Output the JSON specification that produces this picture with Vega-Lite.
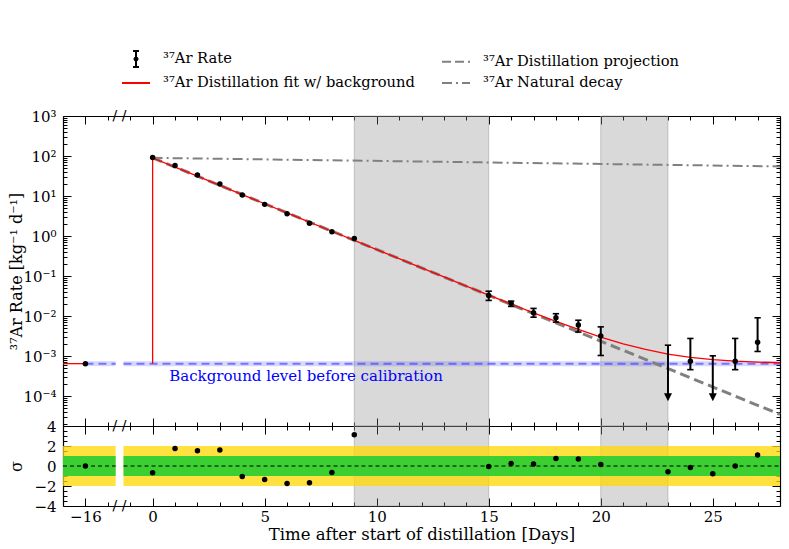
{
  "$schema": "https://vega.github.io/schema/vega-lite/v6.json",
  "background": "white",
  "padding": {"left": 8, "top": 51, "right": 8, "bottom": 6},
  "bounds": "flush",
  "spacing": 0,
  "config": {
    "font": "DejaVu Serif",
    "view": {"stroke": null},
    "axis": {
      "grid": false,
      "zindex": 1,
      "domainColor": "black",
      "domainWidth": 1.2,
      "tickColor": "black",
      "tickWidth": 1,
      "labelColor": "black",
      "labelFont": "DejaVu Serif",
      "labelFontSize": 15,
      "titleFont": "DejaVu Serif",
      "titleFontSize": 16,
      "titleFontWeight": "normal",
      "titleColor": "black"
    },
    "legend": {
      "orient": "none", "legendX": 65, "legendY": -65, "columns": 2, "gridAlign": "each",
      "padding": 0, "columnPadding": 23, "rowPadding": 4,
      "symbolSize": 196, "symbolStrokeWidth": 2, "symbolOpacity": 1, "labelOffset": 19, "labelLimit": 400,
      "labelFont": "DejaVu Serif", "labelFontSize": 14.7, "labelColor": "black"
    }
  },
  "datasets": {
    "bands": [
      {"start": 9, "end": 15},
      {"start": 20, "end": 23}
    ],
    "background": [
      {"seg": "a", "t": -3, "rate": 0.00065},
      {"seg": "a", "t": -1.65, "rate": 0.00065},
      {"seg": "b", "t": -1.3, "rate": 0.00065},
      {"seg": "b", "t": 28, "rate": 0.00065}
    ],
    "decay": [
      {"series": "decay", "t": 0, "rate": 90},
      {"series": "decay", "t": 28, "rate": 55}
    ],
    "projection": [
      {"series": "proj", "t": 0, "rate": 90},
      {"series": "proj", "t": 28, "rate": 0.000035}
    ],
    "fit": [
      {"series": "fit", "seg": "a", "i": 0, "t": -4, "rate": 0.00065},
      {"series": "fit", "seg": "a", "i": 1, "t": -3, "rate": 0.00065},
      {"series": "fit", "seg": "b", "i": 0, "t": 0, "rate": 0.00065},
      {"series": "fit", "seg": "b", "i": 1, "t": 0, "rate": 90},
      {"series": "fit", "seg": "b", "i": 2, "t": 1, "rate": 53.1},
      {"series": "fit", "seg": "b", "i": 3, "t": 2, "rate": 31.3},
      {"series": "fit", "seg": "b", "i": 4, "t": 3, "rate": 18.5},
      {"series": "fit", "seg": "b", "i": 5, "t": 4, "rate": 10.9},
      {"series": "fit", "seg": "b", "i": 6, "t": 5, "rate": 6.43},
      {"series": "fit", "seg": "b", "i": 7, "t": 6, "rate": 3.8},
      {"series": "fit", "seg": "b", "i": 8, "t": 7, "rate": 2.24},
      {"series": "fit", "seg": "b", "i": 9, "t": 8, "rate": 1.32},
      {"series": "fit", "seg": "b", "i": 10, "t": 9, "rate": 0.78},
      {"series": "fit", "seg": "b", "i": 11, "t": 10, "rate": 0.461},
      {"series": "fit", "seg": "b", "i": 12, "t": 11, "rate": 0.273},
      {"series": "fit", "seg": "b", "i": 13, "t": 12, "rate": 0.161},
      {"series": "fit", "seg": "b", "i": 14, "t": 13, "rate": 0.0952},
      {"series": "fit", "seg": "b", "i": 15, "t": 14, "rate": 0.0565},
      {"series": "fit", "seg": "b", "i": 16, "t": 15, "rate": 0.0336},
      {"series": "fit", "seg": "b", "i": 17, "t": 16, "rate": 0.0201},
      {"series": "fit", "seg": "b", "i": 18, "t": 17, "rate": 0.0121},
      {"series": "fit", "seg": "b", "i": 19, "t": 18, "rate": 0.00741},
      {"series": "fit", "seg": "b", "i": 20, "t": 19, "rate": 0.00464},
      {"series": "fit", "seg": "b", "i": 21, "t": 20, "rate": 0.0030},
      {"series": "fit", "seg": "b", "i": 22, "t": 21, "rate": 0.00204},
      {"series": "fit", "seg": "b", "i": 23, "t": 22, "rate": 0.00147},
      {"series": "fit", "seg": "b", "i": 24, "t": 23, "rate": 0.00113},
      {"series": "fit", "seg": "b", "i": 25, "t": 24, "rate": 0.000936},
      {"series": "fit", "seg": "b", "i": 26, "t": 25, "rate": 0.000819},
      {"series": "fit", "seg": "b", "i": 27, "t": 26, "rate": 0.00075},
      {"series": "fit", "seg": "b", "i": 28, "t": 27, "rate": 0.000709},
      {"series": "fit", "seg": "b", "i": 29, "t": 28, "rate": 0.000685}
    ],
    "rates": [
      {"series": "rate", "t": -3, "rate": 0.00065},
      {"series": "rate", "t": 0, "rate": 92},
      {"series": "rate", "t": 1, "rate": 58},
      {"series": "rate", "t": 2, "rate": 33.5},
      {"series": "rate", "t": 3, "rate": 20},
      {"series": "rate", "t": 4, "rate": 10.6},
      {"series": "rate", "t": 5, "rate": 6.2},
      {"series": "rate", "t": 6, "rate": 3.6},
      {"series": "rate", "t": 7, "rate": 2.1},
      {"series": "rate", "t": 8, "rate": 1.28},
      {"series": "rate", "t": 9, "rate": 0.87},
      {"series": "rate", "t": 15, "rate": 0.033, "lo": 0.0247, "hi": 0.042},
      {"series": "rate", "t": 16, "rate": 0.0208, "lo": 0.0175, "hi": 0.0237},
      {"series": "rate", "t": 17, "rate": 0.0121, "lo": 0.0094, "hi": 0.0156},
      {"series": "rate", "t": 18, "rate": 0.0091, "lo": 0.0071, "hi": 0.0115},
      {"series": "rate", "t": 19, "rate": 0.006, "lo": 0.004, "hi": 0.0079},
      {"series": "rate", "t": 20, "rate": 0.0032, "lo": 0.00104, "hi": 0.0054},
      {"series": "rate", "t": 24, "rate": 0.00075, "lo": 0.00046, "hi": 0.00277},
      {"series": "rate", "t": 26, "rate": 0.00075, "lo": 0.00046, "hi": 0.00277},
      {"series": "rate", "t": 27, "rate": 0.00224, "lo": 0.00131, "hi": 0.0091}
    ],
    "limits": [
      {"t": 23, "top": 0.00188, "tip": 0.000094},
      {"t": 25, "top": 0.00102, "tip": 0.000094}
    ],
    "residuals": [
      {"t": -3, "sigma": 0.0},
      {"t": 0, "sigma": -0.67},
      {"t": 1, "sigma": 1.76},
      {"t": 2, "sigma": 1.53},
      {"t": 3, "sigma": 1.6},
      {"t": 4, "sigma": -1.04},
      {"t": 5, "sigma": -1.34},
      {"t": 6, "sigma": -1.74},
      {"t": 7, "sigma": -1.67},
      {"t": 8, "sigma": -0.64},
      {"t": 9, "sigma": 3.13},
      {"t": 15, "sigma": -0.04},
      {"t": 16, "sigma": 0.26},
      {"t": 17, "sigma": 0.2},
      {"t": 18, "sigma": 0.76},
      {"t": 19, "sigma": 0.7},
      {"t": 20, "sigma": 0.16},
      {"t": 23, "sigma": -0.57},
      {"t": 24, "sigma": -0.14},
      {"t": 25, "sigma": -0.77},
      {"t": 26, "sigma": 0.0},
      {"t": 27, "sigma": 1.1}
    ],
    "sigmaBands": [
      {"band": "2", "x1": -4, "x2": -1.65, "lo": -2, "hi": 2},
      {"band": "2", "x1": -1.3, "x2": 28, "lo": -2, "hi": 2},
      {"band": "1", "x1": -4, "x2": -1.65, "lo": -1, "hi": 1},
      {"band": "1", "x1": -1.3, "x2": 28, "lo": -1, "hi": 1}
    ],
    "zeroLine": [
      {"x1": -4, "x2": -1.65, "sigma": 0},
      {"x1": -1.3, "x2": 28, "sigma": 0}
    ]
  },
  "vconcat": [
    {
      "width": 717,
      "height": 310,
      "layer": [
        {
          "data": {"name": "bands"},
          "mark": {"type": "rect", "fill": "#808080", "fillOpacity": 0.3, "stroke": "#999999", "strokeOpacity": 0.5, "strokeWidth": 1},
          "encoding": {
            "x": {"field": "start", "type": "quantitative", "scale": {"domain": [-4, 28], "nice": false, "zero": false},
                  "axis": {"orient": "bottom", "values": [-3, 0, 5, 10, 15, 20, 25], "labels": false, "tickSize": -8, "title": null}},
            "x2": {"field": "end"}
          }
        },
        {
          "data": {"name": "background"},
          "mark": {"type": "line", "stroke": "#4d4dff", "strokeOpacity": 0.22, "strokeWidth": 5},
          "encoding": {
            "x": {"field": "t", "type": "quantitative", "scale": {"domain": [-4, 28], "nice": false, "zero": false},
                  "axis": {"orient": "top", "values": [-3, 0, 5, 10, 15, 20, 25], "labels": false, "tickSize": -8, "title": null}},
            "y": {"field": "rate", "type": "quantitative", "scale": {"type": "log", "domain": [0.000018, 1000], "nice": false},
                  "axis": {"orient": "left", "values": [0.0001, 0.001, 0.01, 0.1, 1, 10, 100, 1000], "tickSize": -8, "labelPadding": 15,
                           "labelExpr": "datum.value >= 500 ? '10³' : datum.value >= 50 ? '10²' : datum.value >= 5 ? '10¹' : datum.value >= 0.5 ? '10⁰' : datum.value >= 0.05 ? '10⁻¹' : datum.value >= 0.005 ? '10⁻²' : datum.value >= 0.0005 ? '10⁻³' : '10⁻⁴'",
                           "title": "³⁷Ar Rate [kg⁻¹ d⁻¹]", "titleX": -47, "titleBaseline": "middle"}},
            "detail": {"field": "seg"}
          }
        },
        {
          "data": {"name": "background"},
          "mark": {"type": "line", "stroke": "#3333ff", "strokeOpacity": 0.6, "strokeWidth": 2, "strokeDash": [8, 5]},
          "encoding": {
            "x": {"field": "t", "type": "quantitative", "scale": {"domain": [-4, 28], "nice": false, "zero": false},
                  "axis": {"orient": "top", "values": [-2, -1, 1, 2, 3, 4, 6, 7, 8, 9, 11, 12, 13, 14, 16, 17, 18, 19, 21, 22, 23, 24, 26, 27], "labels": false, "domain": false, "tickSize": -4, "title": null}},
            "y": {"field": "rate", "type": "quantitative", "scale": {"type": "log", "domain": [0.000018, 1000], "nice": false},
                  "axis": {"orient": "right", "values": [0.0001, 0.001, 0.01, 0.1, 1, 10, 100, 1000], "labels": false, "tickSize": -8, "title": null}},
            "detail": {"field": "seg"}
          }
        },
        {
          "data": {"name": "decay"},
          "mark": {"type": "line", "stroke": "#808080", "strokeWidth": 2, "strokeDash": [10, 4, 2, 4]},
          "encoding": {
            "x": {"field": "t", "type": "quantitative", "scale": {"domain": [-4, 28], "nice": false, "zero": false},
                  "axis": {"orient": "bottom", "values": [-2, -1, 1, 2, 3, 4, 6, 7, 8, 9, 11, 12, 13, 14, 16, 17, 18, 19, 21, 22, 23, 24, 26, 27], "labels": false, "domain": false, "tickSize": -4, "title": null}},
            "y": {"field": "rate", "type": "quantitative", "scale": {"type": "log", "domain": [0.000018, 1000], "nice": false},
                  "axis": {"orient": "right", "labels": false, "domain": false, "tickSize": -4, "title": null,
                           "values": [0.00002, 0.00003, 0.00004, 0.00005, 0.00006, 0.00007, 0.00008, 0.00009, 0.0002, 0.0003, 0.0004, 0.0005, 0.0006, 0.0007, 0.0008, 0.0009, 0.002, 0.003, 0.004, 0.005, 0.006, 0.007, 0.008, 0.009, 0.02, 0.03, 0.04, 0.05, 0.06, 0.07, 0.08, 0.09, 0.2, 0.3, 0.4, 0.5, 0.6, 0.7, 0.8, 0.9, 2, 3, 4, 5, 6, 7, 8, 9, 20, 30, 40, 50, 60, 70, 80, 90, 200, 300, 400, 500, 600, 700, 800, 900]}}
          }
        },
        {
          "data": {"name": "projection"},
          "mark": {"type": "line", "stroke": "#808080", "strokeWidth": 3, "strokeDash": [10, 5]},
          "encoding": {
            "x": {"field": "t", "type": "quantitative", "scale": {"domain": [-4, 28], "nice": false, "zero": false}, "axis": null},
            "y": {"field": "rate", "type": "quantitative", "scale": {"type": "log", "domain": [0.000018, 1000], "nice": false},
                  "axis": {"orient": "left", "labels": false, "domain": false, "tickSize": -4, "title": null,
                           "values": [0.00002, 0.00003, 0.00004, 0.00005, 0.00006, 0.00007, 0.00008, 0.00009, 0.0002, 0.0003, 0.0004, 0.0005, 0.0006, 0.0007, 0.0008, 0.0009, 0.002, 0.003, 0.004, 0.005, 0.006, 0.007, 0.008, 0.009, 0.02, 0.03, 0.04, 0.05, 0.06, 0.07, 0.08, 0.09, 0.2, 0.3, 0.4, 0.5, 0.6, 0.7, 0.8, 0.9, 2, 3, 4, 5, 6, 7, 8, 9, 20, 30, 40, 50, 60, 70, 80, 90, 200, 300, 400, 500, 600, 700, 800, 900]}}
          }
        },
        {
          "data": {"name": "fit"},
          "mark": {"type": "line", "stroke": "#ff0000", "strokeWidth": 1.3},
          "encoding": {
            "x": {"field": "t", "type": "quantitative", "scale": {"domain": [-4, 28], "nice": false, "zero": false}, "axis": null},
            "y": {"field": "rate", "type": "quantitative", "scale": {"type": "log", "domain": [0.000018, 1000], "nice": false}, "axis": null},
            "detail": {"field": "seg"},
            "order": {"field": "i", "type": "quantitative"}
          }
        },
        {
          "data": {"name": "rates"},
          "transform": [{"filter": "isValid(datum.lo)"}],
          "mark": {"type": "rule", "color": "black", "strokeWidth": 2},
          "encoding": {
            "x": {"field": "t", "type": "quantitative", "scale": {"domain": [-4, 28], "nice": false, "zero": false}, "axis": null},
            "y": {"field": "lo", "type": "quantitative", "scale": {"type": "log", "domain": [0.000018, 1000], "nice": false}, "axis": null},
            "y2": {"field": "hi"}
          }
        },
        {
          "data": {"name": "rates"},
          "transform": [{"filter": "isValid(datum.lo)"}],
          "mark": {"type": "point", "shape": "M-1,0L1,0", "size": 40, "stroke": "black", "strokeWidth": 1.6, "opacity": 1},
          "encoding": {
            "x": {"field": "t", "type": "quantitative", "scale": {"domain": [-4, 28], "nice": false, "zero": false}, "axis": null},
            "y": {"field": "lo", "type": "quantitative", "scale": {"type": "log", "domain": [0.000018, 1000], "nice": false}, "axis": null}
          }
        },
        {
          "data": {"name": "rates"},
          "transform": [{"filter": "isValid(datum.hi)"}],
          "mark": {"type": "point", "shape": "M-1,0L1,0", "size": 40, "stroke": "black", "strokeWidth": 1.6, "opacity": 1},
          "encoding": {
            "x": {"field": "t", "type": "quantitative", "scale": {"domain": [-4, 28], "nice": false, "zero": false}, "axis": null},
            "y": {"field": "hi", "type": "quantitative", "scale": {"type": "log", "domain": [0.000018, 1000], "nice": false}, "axis": null}
          }
        },
        {
          "data": {"name": "limits"},
          "mark": {"type": "rule", "color": "black", "strokeWidth": 2},
          "encoding": {
            "x": {"field": "t", "type": "quantitative", "scale": {"domain": [-4, 28], "nice": false, "zero": false}, "axis": null},
            "y": {"field": "top", "type": "quantitative", "scale": {"type": "log", "domain": [0.000018, 1000], "nice": false}, "axis": null},
            "y2": {"field": "tip"}
          }
        },
        {
          "data": {"name": "limits"},
          "mark": {"type": "point", "shape": "M-1,0L1,0", "size": 40, "stroke": "black", "strokeWidth": 1.6, "opacity": 1},
          "encoding": {
            "x": {"field": "t", "type": "quantitative", "scale": {"domain": [-4, 28], "nice": false, "zero": false}, "axis": null},
            "y": {"field": "top", "type": "quantitative", "scale": {"type": "log", "domain": [0.000018, 1000], "nice": false}, "axis": null}
          }
        },
        {
          "data": {"name": "limits"},
          "mark": {"type": "point", "shape": "M-1,-1L1,-1L0,1Z", "size": 64, "filled": true, "fill": "black", "opacity": 1},
          "encoding": {
            "x": {"field": "t", "type": "quantitative", "scale": {"domain": [-4, 28], "nice": false, "zero": false}, "axis": null},
            "y": {"field": "tip", "type": "quantitative", "scale": {"type": "log", "domain": [0.000018, 1000], "nice": false}, "axis": null}
          }
        },
        {
          "data": {"name": "rates"},
          "mark": {"type": "point", "filled": true, "size": 30, "color": "black", "opacity": 1},
          "encoding": {
            "x": {"field": "t", "type": "quantitative", "scale": {"domain": [-4, 28], "nice": false, "zero": false}, "axis": null},
            "y": {"field": "rate", "type": "quantitative", "scale": {"type": "log", "domain": [0.000018, 1000], "nice": false}, "axis": null}
          }
        },
        {
          "data": {"values": []},
          "mark": {"type": "point", "filled": false, "opacity": 1},
          "encoding": {
            "color": {"field": "series", "type": "nominal",
                      "scale": {"domain": ["rate", "fit", "proj", "decay"], "range": ["black", "red", "#808080", "#808080"]},
                      "legend": {"title": null,
                                 "labelExpr": "datum.value === 'rate' ? '³⁷Ar Rate' : datum.value === 'proj' ? '³⁷Ar Distillation projection' : datum.value === 'fit' ? '³⁷Ar Distillation fit w/ background' : '³⁷Ar Natural decay'"}},
            "shape": {"field": "series", "type": "nominal",
                      "scale": {"domain": ["rate", "fit", "proj", "decay"],
                                "range": ["M0,-1.14L0,1.14M-0.43,-1.14L0.43,-1.14M-0.43,1.14L0.43,1.14M0.22,0L0.15,0.15L0,0.22L-0.15,0.15L-0.22,0L-0.15,-0.15L0,-0.22L0.15,-0.15Z", "M-2,0L2,0", "M-2,0L2,0", "M-2,0L2,0"]},
                      "legend": {"title": null,
                                 "labelExpr": "datum.value === 'rate' ? '³⁷Ar Rate' : datum.value === 'proj' ? '³⁷Ar Distillation projection' : datum.value === 'fit' ? '³⁷Ar Distillation fit w/ background' : '³⁷Ar Natural decay'"}},
            "strokeDash": {"field": "series", "type": "nominal",
                           "scale": {"domain": ["rate", "fit", "proj", "decay"], "range": [[1, 0], [1, 0], [9, 4], [10, 4, 2, 4]]},
                           "legend": {"title": null,
                                      "labelExpr": "datum.value === 'rate' ? '³⁷Ar Rate' : datum.value === 'proj' ? '³⁷Ar Distillation projection' : datum.value === 'fit' ? '³⁷Ar Distillation fit w/ background' : '³⁷Ar Natural decay'"}}
          }
        },
        {
          "data": {"values": [{"t": 0.74, "rate": 0.00032, "label": "Background level before calibration"}]},
          "mark": {"type": "text", "align": "left", "baseline": "middle", "color": "#0000ff", "fontSize": 15, "font": "DejaVu Serif"},
          "encoding": {
            "x": {"field": "t", "type": "quantitative", "scale": {"domain": [-4, 28], "nice": false, "zero": false}, "axis": null},
            "y": {"field": "rate", "type": "quantitative", "scale": {"type": "log", "domain": [0.000018, 1000], "nice": false}, "axis": null},
            "text": {"field": "label"}
          }
        },
        {
          "data": {"values": [{"t": -1.48, "rate": 1000}, {"t": -1.48, "rate": 0.000018}]},
          "mark": {"type": "text", "align": "center", "baseline": "middle", "color": "black", "fontSize": 14, "font": "DejaVu Sans", "text": "/ /"},
          "encoding": {
            "x": {"field": "t", "type": "quantitative", "scale": {"domain": [-4, 28], "nice": false, "zero": false}, "axis": null},
            "y": {"field": "rate", "type": "quantitative", "scale": {"type": "log", "domain": [0.000018, 1000], "nice": false}, "axis": null}
          }
        }
      ],
      "resolve": {"axis": {"x": "independent", "y": "independent"}}
    },
    {
      "width": 717,
      "height": 80,
      "layer": [
        {
          "data": {"name": "bands"},
          "mark": {"type": "rect", "fill": "#808080", "fillOpacity": 0.3, "stroke": "#999999", "strokeOpacity": 0.5, "strokeWidth": 1},
          "encoding": {
            "x": {"field": "start", "type": "quantitative", "scale": {"domain": [-4, 28], "nice": false, "zero": false},
                  "axis": {"orient": "bottom", "values": [-3, 0, 5, 10, 15, 20, 25], "tickSize": -8, "labelPadding": 11,
                           "labelExpr": "datum.value === -3 ? '−16' : format(datum.value, 'd')",
                           "title": "Time after start of distillation [Days]", "titleFontSize": 16.5, "titlePadding": 2}},
            "x2": {"field": "end"}
          }
        },
        {
          "data": {"name": "sigmaBands"},
          "transform": [{"filter": "datum.band === '2'"}],
          "mark": {"type": "rect", "fill": "#ffd700", "opacity": 0.75},
          "encoding": {
            "x": {"field": "x1", "type": "quantitative", "scale": {"domain": [-4, 28], "nice": false, "zero": false},
                  "axis": {"orient": "top", "values": [-3, 0, 5, 10, 15, 20, 25], "labels": false, "tickSize": -8, "title": null}},
            "x2": {"field": "x2"},
            "y": {"field": "lo", "type": "quantitative", "scale": {"domain": [-4, 4], "nice": false, "zero": false},
                  "axis": {"orient": "left", "values": [-4, -2, 0, 2, 4], "tickSize": -8, "labelPadding": 15,
                           "title": "σ", "titleX": -47, "titleBaseline": "middle"}},
            "y2": {"field": "hi"}
          }
        },
        {
          "data": {"name": "sigmaBands"},
          "transform": [{"filter": "datum.band === '1'"}],
          "mark": {"type": "rect", "fill": "#32cd32", "opacity": 0.95},
          "encoding": {
            "x": {"field": "x1", "type": "quantitative", "scale": {"domain": [-4, 28], "nice": false, "zero": false},
                  "axis": {"orient": "top", "values": [-2, -1, 1, 2, 3, 4, 6, 7, 8, 9, 11, 12, 13, 14, 16, 17, 18, 19, 21, 22, 23, 24, 26, 27], "labels": false, "domain": false, "tickSize": -4, "title": null}},
            "x2": {"field": "x2"},
            "y": {"field": "lo", "type": "quantitative", "scale": {"domain": [-4, 4], "nice": false, "zero": false},
                  "axis": {"orient": "right", "values": [-4, -2, 0, 2, 4], "labels": false, "tickSize": -8, "title": null}},
            "y2": {"field": "hi"}
          }
        },
        {
          "data": {"name": "zeroLine"},
          "mark": {"type": "rule", "color": "black", "strokeWidth": 1.2, "strokeDash": [4, 3]},
          "encoding": {
            "x": {"field": "x1", "type": "quantitative", "scale": {"domain": [-4, 28], "nice": false, "zero": false},
                  "axis": {"orient": "bottom", "values": [-2, -1, 1, 2, 3, 4, 6, 7, 8, 9, 11, 12, 13, 14, 16, 17, 18, 19, 21, 22, 23, 24, 26, 27], "labels": false, "domain": false, "tickSize": -4, "title": null}},
            "x2": {"field": "x2"},
            "y": {"field": "sigma", "type": "quantitative", "scale": {"domain": [-4, 4], "nice": false, "zero": false},
                  "axis": {"orient": "left", "values": [-3.5, -3, -2.5, -1.5, -1, -0.5, 0.5, 1, 1.5, 2.5, 3, 3.5], "labels": false, "domain": false, "tickSize": -4, "title": null}}
          }
        },
        {
          "data": {"name": "residuals"},
          "mark": {"type": "point", "filled": true, "size": 30, "color": "black", "opacity": 1},
          "encoding": {
            "x": {"field": "t", "type": "quantitative", "scale": {"domain": [-4, 28], "nice": false, "zero": false}, "axis": null},
            "y": {"field": "sigma", "type": "quantitative", "scale": {"domain": [-4, 4], "nice": false, "zero": false},
                  "axis": {"orient": "right", "values": [-3.5, -3, -2.5, -1.5, -1, -0.5, 0.5, 1, 1.5, 2.5, 3, 3.5], "labels": false, "domain": false, "tickSize": -4, "title": null}}
          }
        },
        {
          "data": {"values": [{"t": -1.48, "sigma": -4}]},
          "mark": {"type": "text", "align": "center", "baseline": "middle", "color": "black", "fontSize": 14, "font": "DejaVu Sans", "text": "/ /"},
          "encoding": {
            "x": {"field": "t", "type": "quantitative", "scale": {"domain": [-4, 28], "nice": false, "zero": false}, "axis": null},
            "y": {"field": "sigma", "type": "quantitative", "scale": {"domain": [-4, 4], "nice": false, "zero": false}, "axis": null}
          }
        }
      ],
      "resolve": {"axis": {"x": "independent", "y": "independent"}}
    }
  ]
}
